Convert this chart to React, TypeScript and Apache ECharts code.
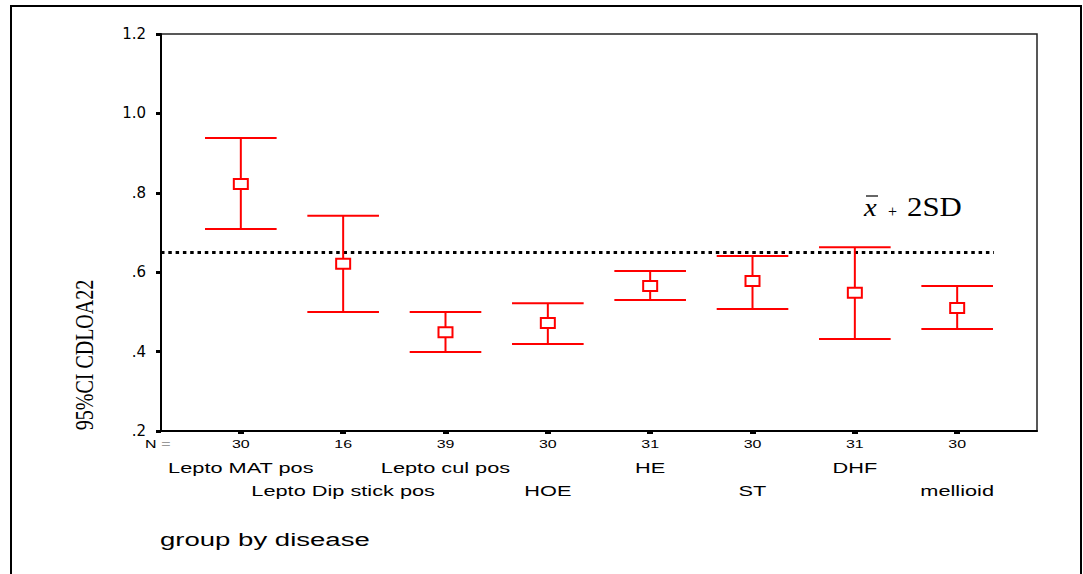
import React, { useEffect, useRef } from "react";
import * as echarts from "echarts";

// ---- data ----
const groups = [
  "Lepto MAT pos",
  "Lepto Dip stick pos",
  "Lepto cul pos",
  "HOE",
  "HE",
  "ST",
  "DHF",
  "mellioid",
];
const nValues = [30, 16, 39, 30, 31, 30, 31, 30];
const means = [0.822, 0.621, 0.449, 0.472, 0.565, 0.578, 0.548, 0.51];
const lowers = [0.709, 0.5, 0.399, 0.419, 0.53, 0.507, 0.432, 0.457];
const uppers = [0.938, 0.742, 0.5, 0.522, 0.603, 0.641, 0.663, 0.565];
const yMin = 0.2;
const yMax = 1.2;
const yStep = 0.2;
const refValue = 0.65;
const refText = "2SD";
const yTitle = "95%CI CDLOA22";
const xTitle = "group by disease";
const nPrefix = "N";

const RED = "#ff0000";
const SX = 1.45;

export default function App() {
  const ref = useRef<HTMLDivElement>(null);
  useEffect(() => {
    if (!ref.current) return;
    const chart = echarts.init(ref.current, undefined, { renderer: "svg" });
    const xMinV = 0.22;
    const xMaxV = 8.78;
    const option: any = {
      animation: false,
      backgroundColor: "#ffffff",
      grid: {
        left: 161,
        top: 34,
        width: 876,
        height: 397,
        show: true,
        borderColor: "#222",
        borderWidth: 1.5,
        backgroundColor: "transparent",
      },
      xAxis: {
        type: "value",
        min: xMinV,
        max: xMaxV,
        axisLine: { show: true, lineStyle: { color: "#000", width: 2 } },
        axisTick: {
          show: true,
          customValues: groups.map((_, i) => i + 1),
          length: 3,
          lineStyle: { color: "#000", width: 6 },
        },
        axisLabel: { show: false },
        splitLine: { show: false },
      },
      yAxis: {
        type: "value",
        min: yMin,
        max: yMax,
        interval: yStep,
        axisLine: { show: true, lineStyle: { color: "#000", width: 2 } },
        axisTick: { show: true, length: 5, lineStyle: { color: "#000", width: 3 } },
        axisLabel: {
          margin: 15,
          color: "#000",
          fontFamily: "DejaVu Sans",
          fontSize: 15,
          formatter: (v: number) => {
            const s = v.toFixed(1);
            return s.startsWith("0") ? s.slice(1) : s;
          },
        },
        splitLine: { show: false },
      },
      series: [
        {
          type: "custom",
          name: "95% CI",
          data: groups.map((_, i) => [i + 1, lowers[i], uppers[i], means[i]]),
          encode: { x: 0, y: [1, 2, 3] },
          z: 5,
          renderItem: (params: any, api: any) => {
            const x = api.value(0);
            const lo = api.coord([x, api.value(1)]);
            const hi = api.coord([x, api.value(2)]);
            const mid = api.coord([x, api.value(3)]);
            const hw = api.size([0.35, 0])[0];
            const st = { stroke: RED, lineWidth: 2 };
            return {
              type: "group",
              children: [
                { type: "line", shape: { x1: hi[0], y1: hi[1], x2: lo[0], y2: lo[1] }, style: st },
                { type: "line", shape: { x1: hi[0] - hw, y1: hi[1], x2: hi[0] + hw, y2: hi[1] }, style: st },
                { type: "line", shape: { x1: lo[0] - hw, y1: lo[1], x2: lo[0] + hw, y2: lo[1] }, style: st },
                {
                  type: "rect",
                  shape: { x: mid[0] - 7, y: mid[1] - 5, width: 14, height: 10 },
                  style: { fill: "#fff", stroke: RED, lineWidth: 2 },
                },
              ],
            };
          },
          markLine: {
            silent: true,
            symbol: "none",
            label: { show: false },
            lineStyle: { color: "#000", width: 3, type: [3.5, 3.8] },
            data: [[{ coord: [xMinV, refValue] }, { coord: [8.36, refValue] }]],
          },
        },
        {
          type: "custom",
          name: "labels",
          silent: true,
          data: groups.map((_, i) => [i + 1, yMin]),
          encode: { x: 0, y: 1 },
          renderItem: (params: any, api: any) => {
            const i = params.dataIndex;
            const p = api.coord([api.value(0), api.value(1)]);
            return {
              type: "group",
              children: [
                {
                  type: "text",
                  x: p[0],
                  y: p[1] + 13,
                  scaleX: SX,
                  style: {
                    text: String(nValues[i]),
                    fontFamily: "Liberation Sans",
                    fontSize: 11,
                    fill: "#000",
                    align: "center",
                    verticalAlign: "middle",
                  },
                },
                {
                  type: "text",
                  x: p[0],
                  y: p[1] + (i % 2 === 0 ? 37 : 60),
                  scaleX: SX,
                  style: {
                    text: groups[i],
                    fontFamily: "Liberation Sans",
                    fontSize: 15,
                    fill: "#000",
                    align: "center",
                    verticalAlign: "middle",
                  },
                },
              ],
            };
          },
        },
      ],
      graphic: [
        {
          type: "polyline",
          shape: { points: [[11, 580], [11, 6], [1081, 6], [1081, 580]] },
          style: { stroke: "#000", lineWidth: 2, fill: "none" },
          silent: true,
        },
        {
          type: "text",
          x: 145,
          y: 444,
          scaleX: SX,
          style: {
            text: "{a|" + nPrefix + "} {b|=}",
            rich: {
              a: { fontFamily: "Liberation Sans", fontSize: 11, fill: "#000" },
              b: { fontFamily: "Liberation Sans", fontSize: 11, fill: "#999" },
            },
            verticalAlign: "middle",
          },
        },
        {
          type: "text",
          x: 160,
          y: 540,
          scaleX: SX,
          style: {
            text: xTitle,
            fontFamily: "Liberation Sans",
            fontSize: 19,
            fill: "#000",
            verticalAlign: "middle",
          },
        },
        {
          type: "text",
          x: 85,
          y: 355,
          rotation: Math.PI / 2,
          scaleY: 1.25,
          style: {
            text: yTitle,
            fontFamily: "Liberation Serif",
            fontSize: 20,
            fill: "#000",
            align: "center",
            verticalAlign: "middle",
          },
        },
        {
          type: "text",
          x: 864,
          y: 207,
          scaleX: 1.1,
          style: {
            text: "x",
            fontFamily: "Liberation Serif",
            fontStyle: "italic",
            fontSize: 26,
            fill: "#000",
            verticalAlign: "middle",
          },
        },
        {
          type: "line",
          shape: { x1: 866, y1: 196, x2: 878, y2: 196 },
          style: { stroke: "#000", lineWidth: 1.2 },
        },
        {
          type: "text",
          x: 888,
          y: 211,
          style: {
            text: "+",
            fontFamily: "Liberation Serif",
            fontSize: 16,
            fill: "#000",
            verticalAlign: "middle",
          },
        },
        {
          type: "text",
          x: 907,
          y: 206,
          scaleX: 1.1,
          style: {
            text: refText,
            fontFamily: "Liberation Serif",
            fontSize: 28,
            fill: "#000",
            verticalAlign: "middle",
          },
        },
      ],
    };
    chart.setOption(option);
    return () => chart.dispose();
  }, []);
  return (
    <div
      ref={ref}
      style={{ position: "absolute", left: 0, top: 0, width: 1083, height: 574, background: "#fff" }}
    />
  );
}
